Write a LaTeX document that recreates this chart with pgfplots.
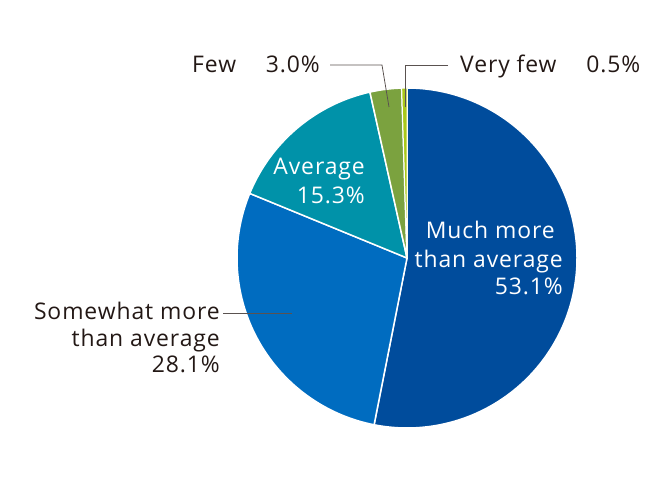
\documentclass[border=0pt]{standalone}
\usepackage{pgfplots}
\pgfplotsset{compat=1.18}
\usepackage{fontspec}
\setmainfont[LetterSpace=4]{Open Sans}
\definecolor{cMuch}{HTML}{004C9C}
\definecolor{cSome}{HTML}{006CC0}
\definecolor{cAvg}{HTML}{0092A9}
\definecolor{cFew}{HTML}{7BA23F}
\definecolor{cVery}{HTML}{A9C81A}
\definecolor{txt}{HTML}{231815}
% shares in percent
\def\vMuch{53.1}
\def\vSome{28.1}
\def\vAvg{15.3}
\def\vFew{3.0}
\def\vVery{0.5}
\begin{document}
\begin{tikzpicture}
\pgfmathsetmacro\aA{90}
\pgfmathsetmacro\aB{\aA-3.6*\vMuch}
\pgfmathsetmacro\aC{\aB-3.6*\vSome}
\pgfmathsetmacro\aD{\aC-3.6*\vAvg}
\pgfmathsetmacro\aE{\aD-3.6*\vFew}
\pgfmathsetmacro\aF{\aE-3.6*\vVery}
\begin{axis}[width=670bp,height=480bp,scale only axis,
  xmin=0,xmax=670,ymin=0,ymax=480,hide axis,clip=false]
\path (axis cs:0,0) rectangle (axis cs:670,480);
\def\cx{407}\def\cy{222}\def\r{170}
\addplot[fill=cMuch,draw=white,line width=1.5pt,domain=\aB:\aA,samples=120,variable=\t]
  ({\cx+\r*cos(\t)},{\cy+\r*sin(\t)}) -- (axis cs:\cx,\cy) -- cycle;
\addplot[fill=cSome,draw=white,line width=1.5pt,domain=\aC:\aB,samples=80,variable=\t]
  ({\cx+\r*cos(\t)},{\cy+\r*sin(\t)}) -- (axis cs:\cx,\cy) -- cycle;
\addplot[fill=cAvg,draw=white,line width=1.5pt,domain=\aD:\aC,samples=50,variable=\t]
  ({\cx+\r*cos(\t)},{\cy+\r*sin(\t)}) -- (axis cs:\cx,\cy) -- cycle;
\addplot[fill=cFew,draw=white,line width=1.5pt,domain=\aE:\aD,samples=15,variable=\t]
  ({\cx+\r*cos(\t)},{\cy+\r*sin(\t)}) -- (axis cs:\cx,\cy) -- cycle;
\addplot[fill=cVery,draw=white,line width=1pt,domain=\aF:\aE,samples=5,variable=\t]
  ({\cx+\r*cos(\t)},{\cy+\r*sin(\t)}) -- (axis cs:\cx,\cy) -- cycle;
% leader lines
\addplot[draw=txt!75,line width=0.8pt] coordinates {(330,415) (382,415) (389,373)};
\addplot[draw=txt!75,line width=0.8pt] coordinates {(448,415) (405,415) (405,373)};
\addplot[draw=txt!75,line width=0.8pt] coordinates {(223,167) (292,167)};
% labels
\begin{scope}[every node/.style={font=\fontsize{23}{28}\selectfont,inner sep=0pt}]
\node[txt,anchor=base east] at (axis cs:320,407) {Few\hspace{1.3em}3.0\%};
\node[txt,anchor=base west] at (axis cs:460,407) {Very few\hspace{1.3em}0.5\%};
\node[white,anchor=base east] at (axis cs:365,305) {Average};
\node[white,anchor=base east] at (axis cs:365,276) {15.3\%};
\node[white,anchor=base east] at (axis cs:555,241) {Much more};
\node[white,anchor=base east] at (axis cs:563,212) {than average};
\node[white,anchor=base east] at (axis cs:563,185) {53.1\%};
\node[txt,anchor=base east] at (axis cs:220,160) {Somewhat more};
\node[txt,anchor=base east] at (axis cs:220,133) {than average};
\node[txt,anchor=base east] at (axis cs:220,107) {28.1\%};
\end{scope}
\end{axis}
\end{tikzpicture}
\end{document}
